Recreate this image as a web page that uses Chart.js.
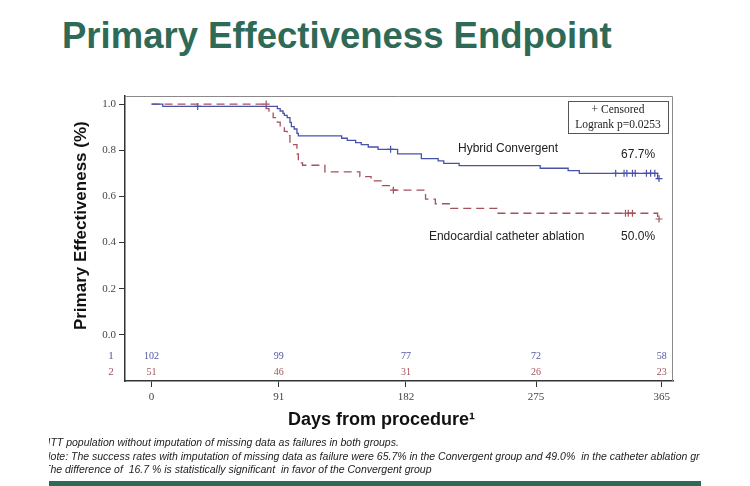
<!DOCTYPE html>
<html>
<head>
<meta charset="utf-8">
<script src="https://cdn.jsdelivr.net/npm/chart.js@4.4.1/dist/chart.umd.min.js"></script>
<style>
html, body { margin: 0; padding: 0; background: #fff; }
body { width: 750px; height: 486px; position: relative; overflow: hidden; font-family: "Liberation Sans", Arial, sans-serif; }
#title { position: absolute; left: 62px; top: 15px; font-size: 36.5px; font-weight: bold; color: #2e6a56; white-space: nowrap; }
#myChart { position: absolute; left: 0; top: 0; }
#notes { position: absolute; left: 49px; top: 436px; width: 651px; overflow: hidden; font-style: italic; font-size: 10.5px; line-height: 13.5px; color: #222; white-space: nowrap; }
#bar { position: absolute; left: 49px; top: 481px; width: 652px; height: 5px; background: #2d6a58; }
</style>
</head>
<body>
<div id="title">Primary Effectiveness Endpoint</div>
<canvas id="myChart" width="750" height="486"></canvas>
<div id="notes">
	<div style="margin-left:-5px">¹ITT population without imputation of missing data as failures in both groups.</div>
	<div style="margin-left:-6px">Note: The success rates with imputation of missing data as failure were 65.7% in the Convergent group and 49.0%&nbsp; in the catheter ablation group</div>
	<div style="margin-left:-5px">The difference of&nbsp; 16.7 % is statistically significant&nbsp; in favor of the Convergent group</div>
</div>
<div id="bar"></div>
<script>
const riskDays = [0, 91, 182, 275, 365];
const hybridAtRisk = [102, 99, 77, 72, 58];
const catheterAtRisk = [51, 46, 31, 26, 23];
const yTicks = [0, 0.2, 0.4, 0.6, 0.8, 1.0];

const hybridDays = [0, 8, 90, 92, 94, 95, 97, 99, 100, 102, 104, 105, 136, 140, 146, 150, 155, 162, 176, 193, 205, 209, 220, 278, 298, 306, 362, 363];
const hybridSurv = [1.0, 0.990, 0.980, 0.970, 0.960, 0.951, 0.941, 0.921, 0.902, 0.892, 0.873, 0.862, 0.852, 0.843, 0.833, 0.824, 0.814, 0.804, 0.784, 0.764, 0.754, 0.743, 0.733, 0.722, 0.712, 0.700, 0.677, 0.677];
const hybridCensorDays = [33, 171, 332, 338, 340, 344, 346, 354, 357, 360, 363];
const hybridCensorSurv = [0.990, 0.804, 0.700, 0.700, 0.700, 0.700, 0.700, 0.700, 0.700, 0.700, 0.677];

const catheterDays = [0, 82, 84, 87, 90, 92, 95, 97, 99, 104, 105, 108, 124, 149, 157, 165, 173, 196, 203, 214, 247, 362, 363];
const catheterSurv = [1.0, 0.980, 0.961, 0.941, 0.922, 0.902, 0.882, 0.863, 0.824, 0.784, 0.745, 0.735, 0.706, 0.686, 0.667, 0.647, 0.627, 0.588, 0.568, 0.548, 0.527, 0.502, 0.502];
const catheterCensorDays = [82, 173, 339, 341, 344, 363];
const catheterCensorSurv = [1.0, 0.627, 0.527, 0.527, 0.527, 0.502];

const blue = 'rgb(72, 82, 170)';
const red = 'rgb(164, 82, 92)';

// text placed in data coordinates
const curveLabels = [
	{ text: 'Hybrid Convergent', x: 255, y: 0.806 },
	{ text: '67.7%', x: 348, y: 0.78 },
	{ text: 'Endocardial catheter ablation', x: 254, y: 0.425 },
	{ text: '50.0%', x: 348, y: 0.425 },
];

const points = (xs, ys) => xs.map((x, i) => ({ x: x, y: ys[i] }));

const extras = {
	id: 'extras',
	afterDatasetsDraw(chart) {
		const c = chart.ctx;
		const area = chart.chartArea;
		const sx = chart.scales.x;
		const sy = chart.scales.y;
		c.save();
		// top and right frame
		c.strokeStyle = '#8a8a8a';
		c.lineWidth = 1;
		c.beginPath();
		c.moveTo(area.left, area.top + 0.5);
		c.lineTo(area.right - 0.5, area.top + 0.5);
		c.lineTo(area.right - 0.5, area.bottom);
		c.stroke();

		// censored / logrank box
		const bw = 100, bh = 32;
		const bx = area.right - 5 - bw, by = area.top + 5;
		c.strokeStyle = '#555';
		c.strokeRect(bx + 0.5, by + 0.5, bw, bh);
		c.fillStyle = '#222';
		c.font = '11.5px "Liberation Serif"';
		c.textAlign = 'center';
		c.textBaseline = 'middle';
		c.fillText('+ Censored', bx + bw / 2, by + 8.5);
		c.fillText('Logrank p=0.0253', bx + bw / 2, by + 23.5);

		// curve labels
		c.font = '12px "Liberation Sans"';
		c.fillStyle = '#222';
		curveLabels.forEach(l => {
			c.fillText(l.text, sx.getPixelForValue(l.x), sy.getPixelForValue(l.y));
		});

		// number at risk
		c.font = '10px "Liberation Serif"';
		const rows = [
			{ vals: hybridAtRisk, y: -0.094, color: 'rgb(80, 86, 160)', name: '1' },
			{ vals: catheterAtRisk, y: -0.163, color: 'rgb(160, 82, 90)', name: '2' },
		];
		rows.forEach(r => {
			const py = sy.getPixelForValue(r.y);
			c.fillStyle = r.color;
			r.vals.forEach((v, i) => c.fillText(String(v), sx.getPixelForValue(riskDays[i]), py));
			c.font = '11px "Liberation Serif"';
			c.fillText(r.name, area.left - 14, py);
			c.font = '10px "Liberation Serif"';
		});

		// axis titles (off-centre in the original)
		c.fillStyle = '#111';
		c.font = 'bold 18px "Liberation Sans"';
		c.fillText('Days from procedure¹', sx.getPixelForValue(164.5), area.bottom + 39);
		c.translate(area.left - 44, sy.getPixelForValue(0.473));
		c.rotate(-Math.PI / 2);
		c.font = 'bold 17px "Liberation Sans"';
		c.fillText('Primary Effectiveness (%)', 0, 0);
		c.restore();
	}
};

const ctx = document.getElementById('myChart');

new Chart(ctx, {
	type: 'line',
	data: {
		datasets: [
			{
				data: points(hybridDays, hybridSurv),
				borderColor: blue,
				borderWidth: 1.3,
				stepped: true,
				pointRadius: 0,
			},
			{
				data: points(catheterDays, catheterSurv),
				borderColor: red,
				borderWidth: 1.3,
				borderDash: [8, 5],
				stepped: true,
				pointRadius: 0,
			},
			{
				data: points(hybridCensorDays, hybridCensorSurv),
				showLine: false,
				pointStyle: 'cross',
				pointRadius: 3.5,
				borderColor: blue,
				borderWidth: 1.2,
			},
			{
				data: points(catheterCensorDays, catheterCensorSurv),
				showLine: false,
				pointStyle: 'cross',
				pointRadius: 3.5,
				borderColor: red,
				borderWidth: 1.2,
			},
		],
	},
	options: {
		responsive: false,
		animation: false,
		layout: {
			padding: { left: 65, top: 96, right: 77, bottom: 55 }
		},
		plugins: {
			legend: { display: false },
			tooltip: { enabled: false }
		},
		scales: {
			x: {
				type: 'linear',
				min: -19,
				max: 373,
				afterBuildTicks: s => { s.ticks = riskDays.map(v => ({ value: v })); },
				afterFit: s => { s.height = 50; },
				grid: { drawOnChartArea: false, tickLength: 6, color: '#333' },
				border: { color: '#333', width: 1.5 },
				ticks: {
					font: { family: 'Liberation Serif', size: 11 },
					color: '#444',
					padding: 4,
					maxRotation: 0
				}
			},
			y: {
				min: -0.2,
				max: 1.035,
				afterBuildTicks: s => { s.ticks = yTicks.map(v => ({ value: v })); },
				afterFit: s => { s.width = 60; },
				grid: { drawOnChartArea: false, tickLength: 6, color: '#333' },
				border: { color: '#333', width: 1.5 },
				ticks: {
					font: { family: 'Liberation Serif', size: 11 },
					color: '#444',
					padding: 3,
					callback: v => v.toFixed(1)
				}
			}
		}
	},
	plugins: [extras]
});
</script>
</body>
</html>
